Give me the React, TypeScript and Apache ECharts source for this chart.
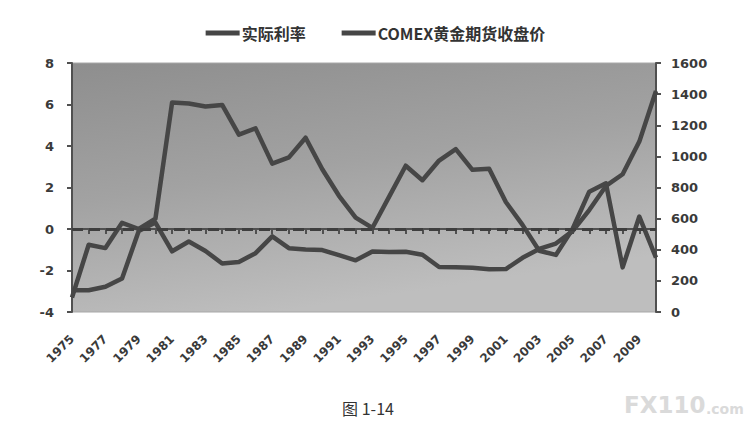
import React, { useEffect, useRef } from "react";
import * as echarts from "echarts";

const years: string[] = [
  "1975","1976","1977","1978","1979","1980","1981","1982","1983","1984",
  "1985","1986","1987","1988","1989","1990","1991","1992","1993","1994",
  "1995","1996","1997","1998","1999","2000","2001","2002","2003","2004",
  "2005","2006","2007","2008","2009","2010",
];

const realRate: number[] = [
  -3.3, -0.76, -0.92, 0.3, 0.0, 0.5, 6.1, 6.05, 5.9, 5.98,
  4.55, 4.85, 3.15, 3.45, 4.4, 2.88, 1.6, 0.55, 0.05, 1.55,
  3.05, 2.35, 3.3, 3.85, 2.85, 2.9, 1.3, 0.2, -1.05, -1.25,
  0.0, 1.8, 2.2, -1.85, 0.6, -1.38,
];

const goldClose: number[] = [
  140, 140, 162, 216, 520, 575, 390, 453, 392, 312,
  322, 378, 486, 410, 402, 398, 365, 332, 388, 386,
  387, 368, 289, 288, 285, 275, 276, 348, 405, 440,
  520, 655, 810, 885, 1095, 1420,
];

const seriesNames: string[] = ["实际利率", "COMEX黄金期货收盘价"];
const leftTicks = { min: -4, max: 8, interval: 2 };
const rightTicks = { min: 0, max: 1600, interval: 200 };
const caption = "图 1-14";

const LINE = "#464646";
const AXIS = "#505050";
const LABEL = "#3a3a3a";

export default function App() {
  const ref = useRef<HTMLDivElement>(null);
  useEffect(() => {
    if (!ref.current) return;
    const chart = echarts.init(ref.current, null, { renderer: "svg" });
    chart.setOption({
      animation: false,
      backgroundColor: "#ffffff",
      legend: {
        top: 20,
        left: "center",
        itemWidth: 34,
        itemHeight: 5,
        itemGap: 36,
        icon: "rect",
        textStyle: {
          fontFamily: "Noto Sans CJK SC",
          fontWeight: "bold",
          fontSize: 16,
          color: "#333",
          padding: [0, 0, 0, -3],
        },
        data: seriesNames,
      },
      grid: {
        left: 72,
        right: 95,
        top: 63,
        bottom: 116,
        show: true,
        borderWidth: 1,
        borderColor: "#a8a8a8",
        backgroundColor: new echarts.graphic.LinearGradient(0, 0, 0.35, 1, [
          { offset: 0, color: "#8e8e8e" },
          { offset: 0.5, color: "#a2a2a2" },
          { offset: 1, color: "#bebebe" },
        ]),
      },
      xAxis: {
        type: "category",
        data: years,
        boundaryGap: false,
        axisLine: { show: true, lineStyle: { color: AXIS, width: 2 } },
        axisTick: { show: true, interval: 0, length: 5, lineStyle: { color: AXIS, width: 2 } },
        axisLabel: {
          interval: 1,
          rotate: 45,
          margin: 25,
          fontFamily: "DejaVu Sans",
          fontWeight: "bold",
          fontSize: 12,
          color: LABEL,
        },
        splitLine: { show: false },
      },
      yAxis: [
        {
          type: "value",
          position: "left",
          min: leftTicks.min,
          max: leftTicks.max,
          interval: leftTicks.interval,
          axisLine: { show: true, lineStyle: { color: AXIS, width: 2 } },
          axisTick: { show: true, length: 5, lineStyle: { color: AXIS, width: 2 } },
          axisLabel: {
            margin: 18,
            fontFamily: "DejaVu Sans",
            fontWeight: "bold",
            fontSize: 13,
            color: LABEL,
          },
          splitLine: { show: false },
        },
        {
          type: "value",
          position: "right",
          min: rightTicks.min,
          max: rightTicks.max,
          interval: rightTicks.interval,
          axisLine: { show: true, lineStyle: { color: AXIS, width: 2 } },
          axisTick: { show: true, length: 5, lineStyle: { color: AXIS, width: 2 } },
          axisLabel: {
            margin: 15,
            fontFamily: "DejaVu Sans",
            fontWeight: "bold",
            fontSize: 13,
            color: LABEL,
            formatter: (v: number) => String(v),
          },
          splitLine: { show: false },
        },
      ],
      series: [
        {
          name: seriesNames[0],
          type: "line",
          yAxisIndex: 0,
          data: realRate,
          showSymbol: false,
          symbol: "none",
          itemStyle: { color: LINE },
          lineStyle: { color: LINE, width: 4.5, join: "round" },
          markLine: {
            silent: true,
            symbol: "none",
            label: { show: false },
            lineStyle: { color: "#3e3e3e", width: 3, type: [11, 6] },
            data: [{ yAxis: 0 }],
          },
        },
        {
          name: seriesNames[1],
          type: "line",
          yAxisIndex: 1,
          data: goldClose,
          showSymbol: false,
          symbol: "none",
          itemStyle: { color: LINE },
          lineStyle: { color: LINE, width: 4.5, join: "round" },
        },
      ],
      graphic: [
        {
          type: "text",
          x: 368,
          y: 408,
          style: {
            text: caption,
            fontFamily: "Noto Sans CJK SC",
            fontSize: 16,
            fill: "#333",
            textAlign: "center",
            textVerticalAlign: "middle",
          },
        },
        {
          type: "text",
          x: 624,
          y: 405,
          style: {
            text: "FX110",
            fontFamily: "DejaVu Sans",
            fontWeight: "bold",
            fontSize: 23,
            fill: "#dadada",
            textAlign: "left",
            textVerticalAlign: "middle",
          },
        },
        {
          type: "text",
          x: 706,
          y: 409,
          style: {
            text: ".com",
            fontFamily: "DejaVu Sans",
            fontWeight: "bold",
            fontSize: 14,
            fill: "#dadada",
            textAlign: "left",
            textVerticalAlign: "middle",
          },
        },
      ],
    });
    return () => chart.dispose();
  }, []);
  return (
    <div
      ref={ref}
      style={{ position: "absolute", left: 0, top: 0, width: 751, height: 428 }}
    />
  );
}
